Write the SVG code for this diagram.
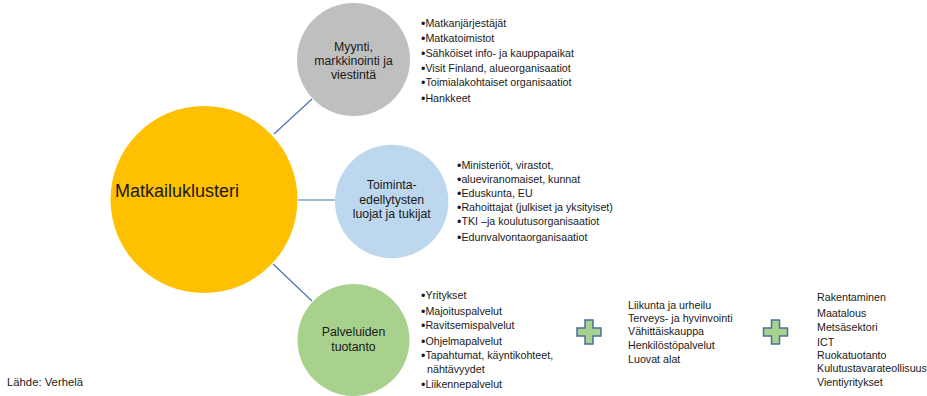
<svg xmlns="http://www.w3.org/2000/svg" width="927" height="396" viewBox="0 0 927 396">
<style>
text{font-family:"Liberation Sans",Arial,sans-serif;fill:#1a1a1a}
.c{font-size:12.3px;text-anchor:middle}
.l{font-size:10.7px}
.b{font-size:12.5px;baseline-shift:-1.2px}
.conn{stroke:#4a72b0;stroke-width:1.2;fill:none}
.plus{fill:#a9d18e;stroke:#4a6fa5;stroke-width:1.5}
</style>
<defs>
<path id="plusShape" d="M-4,-12 H4 V-4 H12 V4 H4 V12 H-4 V4 H-12 V-4 H-4 Z"/>
</defs>
<rect width="927" height="396" fill="#fff"/>
<g id="connectors">
<line class="conn" x1="274" y1="134" x2="312" y2="99"/>
<line class="conn" x1="298" y1="200" x2="335" y2="200"/>
<line class="conn" x1="273" y1="264" x2="312" y2="301"/>
</g>
<g id="matkailuklusteri">
<circle cx="204" cy="199.5" r="93.5" fill="#ffc000"/>
<text x="115" y="197" style="font-size:18px">Matkailuklusteri</text>
</g>
<g id="myynti">
<circle cx="353.5" cy="59.5" r="56.5" fill="#bfbfbf"/>
<text class="c" x="353.5" y="51">Myynti,</text>
<text class="c" x="353.5" y="65">markkinointi ja</text>
<text class="c" x="353.5" y="79">viestintä</text>
</g>
<g id="toiminta">
<circle cx="391.7" cy="201.5" r="56.7" fill="#bdd7ee"/>
<text class="c" x="391.7" y="189">Toiminta-</text>
<text class="c" x="391.7" y="203.5">edellytysten</text>
<text class="c" x="391.7" y="218">luojat ja tukijat</text>
</g>
<g id="palveluiden">
<circle cx="353.5" cy="340" r="56" fill="#a9d18e"/>
<text class="c" x="353.5" y="336">Palveluiden</text>
<text class="c" x="353.5" y="351">tuotanto</text>
</g>
<g id="list-myynti">
<text class="l" x="421" y="27"><tspan class="b">•</tspan>Matkanjärjestäjät</text>
<text class="l" x="421" y="41.5"><tspan class="b">•</tspan>Matkatoimistot</text>
<text class="l" x="421" y="56.5"><tspan class="b">•</tspan>Sähköiset info- ja kauppapaikat</text>
<text class="l" x="421" y="71.5"><tspan class="b">•</tspan>Visit Finland, alueorganisaatiot</text>
<text class="l" x="421" y="86"><tspan class="b">•</tspan>Toimialakohtaiset organisaatiot</text>
<text class="l" x="421" y="101.5"><tspan class="b">•</tspan>Hankkeet</text>
</g>
<g id="list-toiminta">
<text class="l" x="457" y="169"><tspan class="b">•</tspan>Ministeriöt, virastot,</text>
<text class="l" x="457" y="182.5"><tspan class="b">•</tspan>alueviranomaiset, kunnat</text>
<text class="l" x="457" y="196.5"><tspan class="b">•</tspan>Eduskunta, EU</text>
<text class="l" x="457" y="210.5"><tspan class="b">•</tspan>Rahoittajat (julkiset ja yksityiset)</text>
<text class="l" x="457" y="225"><tspan class="b">•</tspan>TKI –ja koulutusorganisaatiot</text>
<text class="l" x="457" y="240.5"><tspan class="b">•</tspan>Edunvalvontaorganisaatiot</text>
</g>
<g id="list-palvelut">
<text class="l" x="421" y="299"><tspan class="b">•</tspan>Yritykset</text>
<text class="l" x="421" y="314.5"><tspan class="b">•</tspan>Majoituspalvelut</text>
<text class="l" x="421" y="328.5"><tspan class="b">•</tspan>Ravitsemispalvelut</text>
<text class="l" x="421" y="344.5"><tspan class="b">•</tspan>Ohjelmapalvelut</text>
<text class="l" x="421" y="359"><tspan class="b">•</tspan>Tapahtumat, käyntikohteet,</text>
<text class="l" x="427" y="373">nähtävyydet</text>
<text class="l" x="421" y="387.5"><tspan class="b">•</tspan>Liikennepalvelut</text>
</g>
<g id="plus1"><use href="#plusShape" class="plus" transform="translate(589,332)"/></g>
<g id="list-liikunta">
<text class="l" x="628" y="309">Liikunta ja urheilu</text>
<text class="l" x="628" y="322">Terveys- ja hyvinvointi</text>
<text class="l" x="628" y="335">Vähittäiskauppa</text>
<text class="l" x="628" y="348.5">Henkilöstöpalvelut</text>
<text class="l" x="628" y="363">Luovat alat</text>
</g>
<g id="plus2"><use href="#plusShape" class="plus" transform="translate(775.5,332)"/></g>
<g id="list-muut">
<text class="l" x="817" y="300.5">Rakentaminen</text>
<text class="l" x="817" y="317">Maatalous</text>
<text class="l" x="817" y="330.5">Metsäsektori</text>
<text class="l" x="817" y="345.5">ICT</text>
<text class="l" x="817" y="359">Ruokatuotanto</text>
<text class="l" x="817" y="372">Kulutustavarateollisuus</text>
<text class="l" x="817" y="385.5">Vientiyritykset</text>
</g>
<g id="source">
<text x="7" y="386" style="font-size:11.3px">Lähde: Verhelä</text>
</g>
</svg>
